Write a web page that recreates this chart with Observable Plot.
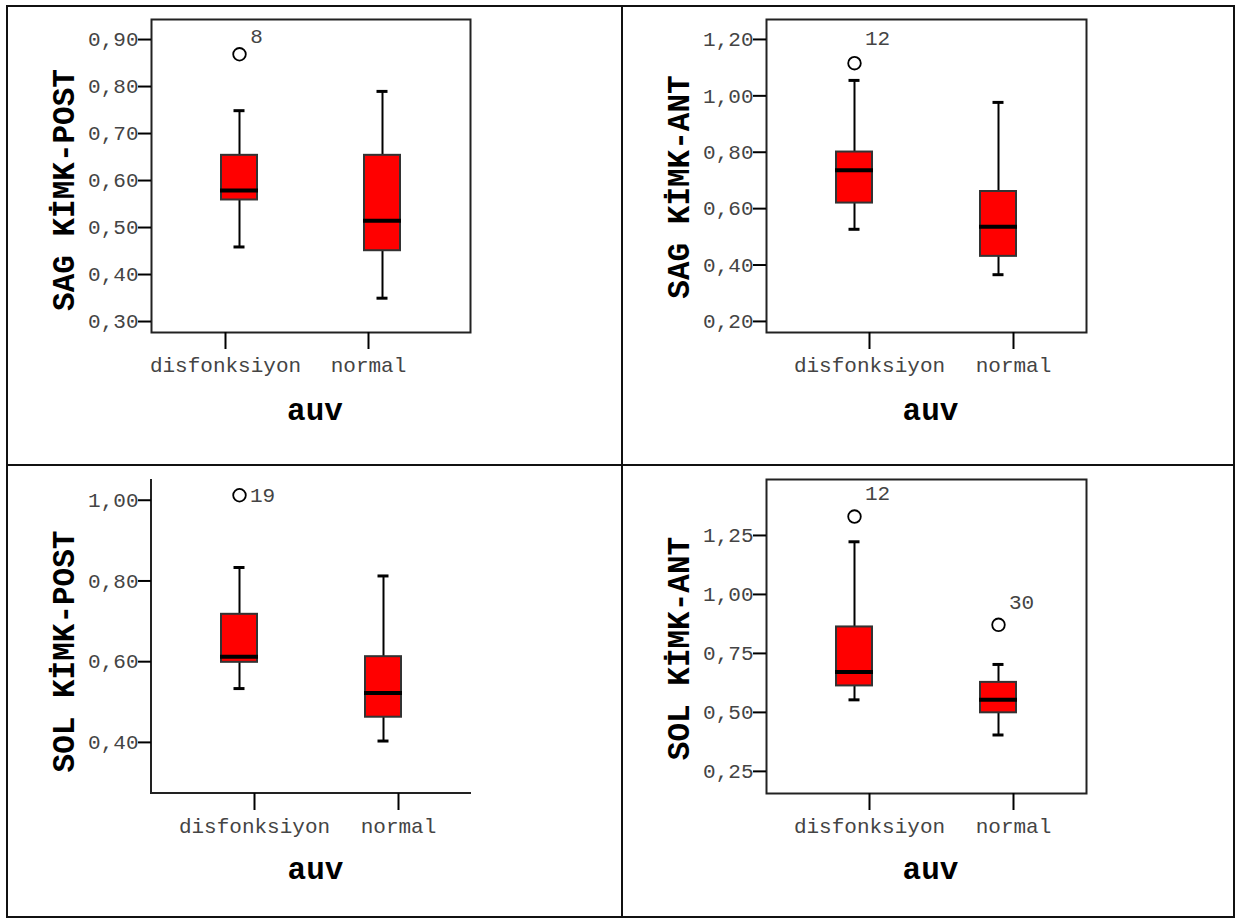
<!DOCTYPE html>
<html>
<head>
<meta charset="utf-8">
<script src="https://cdn.jsdelivr.net/npm/d3@7"></script>
<script src="https://cdn.jsdelivr.net/npm/@observablehq/plot@0.6"></script>
<style>
  html, body { margin: 0; padding: 0; background: #fff; }
  #page { position: relative; width: 1237px; height: 920px; background: #fff; overflow: hidden; }
  .panel { position: absolute; }
  .rule { position: absolute; background: #111; }
</style>
</head>
<body>
<div id="page"></div>
<script>
// ---------- data ----------
const groups = ["disfonksiyon", "normal"];
const xTitle = "auv";

// Panel 1: SAG KİMK-POST
const p1Title = "SAG KİMK-POST";
const p1Min = [0.448, 0.339];
const p1Q1 = [0.548, 0.440];
const p1Median = [0.568, 0.504];
const p1Q3 = [0.643, 0.643];
const p1Max = [0.738, 0.779];
const p1OutGroup = ["disfonksiyon"];
const p1OutValue = [0.858];
const p1OutId = ["8"];
const p1Ticks = [0.3, 0.4, 0.5, 0.6, 0.7, 0.8, 0.9];
const p1Domain = [0.266, 0.932];

// Panel 2: SAG KİMK-ANT
const p2Title = "SAG KİMK-ANT";
const p2Min = [0.509, 0.348];
const p2Q1 = [0.602, 0.413];
const p2Median = [0.718, 0.518];
const p2Q3 = [0.783, 0.643];
const p2Max = [1.037, 0.959];
const p2OutGroup = ["disfonksiyon"];
const p2OutValue = [1.098];
const p2OutId = ["12"];
const p2Ticks = [0.2, 0.4, 0.6, 0.8, 1.0, 1.2];
const p2Domain = [0.143, 1.253];

// Panel 3: SOL KİMK-POST
const p3Title = "SOL KİMK-POST";
const p3Min = [0.521, 0.391];
const p3Q1 = [0.586, 0.450];
const p3Median = [0.600, 0.510];
const p3Q3 = [0.705, 0.600];
const p3Max = [0.821, 0.800];
const p3OutGroup = ["disfonksiyon"];
const p3OutValue = [1.0];
const p3OutId = ["19"];
const p3Ticks = [0.4, 0.6, 0.8, 1.0];
const p3Domain = [0.261, 1.039];

// Panel 4: SOL KİMK-ANT
const p4Title = "SOL KİMK-ANT";
const p4Min = [0.532, 0.383];
const p4Q1 = [0.591, 0.477];
const p4Median = [0.650, 0.532];
const p4Q3 = [0.841, 0.606];
const p4Max = [1.202, 0.682];
const p4OutGroup = ["disfonksiyon", "normal"];
const p4OutValue = [1.309, 0.850];
const p4OutId = ["12", "30"];
const p4Ticks = [0.25, 0.5, 0.75, 1.0, 1.25];
const p4Domain = [0.135, 1.466];

// ---------- drawing ----------
const FONT = "'Liberation Mono', 'DejaVu Sans Mono', monospace";
const fmt = d => d3.format(".2f")(d).replace(".", ",");

function leftBottomLines(...args) {
  const dm = args.find(a => a && typeof a === "object" && "marginLeft" in a && "width" in a);
  const x0 = dm.marginLeft, x1 = dm.width - dm.marginRight;
  const y0 = dm.marginTop, y1 = dm.height - dm.marginBottom;
  const g = d3.create("svg:g");
  g.append("path")
    .attr("d", `M${x0},${y0}V${y1}H${x1}`)
    .attr("fill", "none").attr("stroke", "#222").attr("stroke-width", 2);
  return g.node();
}

function panel(cfg) {
  const rows = groups.map((g, i) => ({
    group: g, min: cfg.min[i], q1: cfg.q1[i], median: cfg.median[i], q3: cfg.q3[i], max: cfg.max[i]
  }));
  const outliers = cfg.outGroup.map((g, i) => ({group: g, value: cfg.outValue[i], id: cfg.outId[i]}));
  return Plot.plot({
    width: cfg.width, height: cfg.height,
    marginLeft: cfg.mL, marginRight: cfg.mR, marginTop: cfg.mT, marginBottom: cfg.mB,
    style: {fontFamily: FONT, background: "transparent", overflow: "visible"},
    x: {type: "band", domain: groups, paddingInner: 0.75, paddingOuter: 0.486},
    y: {domain: cfg.domain},
    marks: [
      cfg.fullFrame ? Plot.frame({stroke: "#222", strokeWidth: 2}) : leftBottomLines,
      Plot.ruleX(rows, {x: "group", y1: "min", y2: "max", stroke: "#000", strokeWidth: 2}),
      Plot.tickY(rows, {x: "group", y: "min", insetLeft: 12.5, insetRight: 12.5, stroke: "#000", strokeWidth: 3}),
      Plot.tickY(rows, {x: "group", y: "max", insetLeft: 12.5, insetRight: 12.5, stroke: "#000", strokeWidth: 3}),
      Plot.barY(rows, {x: "group", y1: "q1", y2: "q3", fill: "#ff0000", stroke: "#333", strokeWidth: 2}),
      Plot.tickY(rows, {x: "group", y: "median", insetLeft: -1, insetRight: -1, stroke: "#000", strokeWidth: 4}),
      Plot.dot(outliers, {x: "group", y: "value", r: 6.3, stroke: "#000", strokeWidth: 1.8, fill: "none"}),
      Plot.text(outliers, {x: "group", y: "value", text: "id", dx: cfg.idDx, dy: cfg.idDy, fontSize: 21, fill: "#444"}),
      Plot.axisY(cfg.ticks, {tickSize: 13, tickPadding: 0, tickFormat: fmt, fontSize: 21, fill: "#444",
        stroke: "#000", strokeWidth: 2, dy: 5, label: null}),
      Plot.axisX({tickSize: 17, tickPadding: 8, fontSize: 21, fill: "#444", stroke: "#000", strokeWidth: 2,
        dx: cfg.catDx, label: null}),
      Plot.text([xTitle], {frameAnchor: "bottom", textAnchor: "middle", lineAnchor: "bottom", dy: cfg.xTitleDy, dx: 4,
        fontSize: 31, fontWeight: "bold", fill: "#000"}),
      Plot.text([cfg.title], {frameAnchor: "left", textAnchor: "middle", lineAnchor: "middle", rotate: -90,
        dx: -87, dy: cfg.yTitleDy, fontSize: 31, fontWeight: "bold", fill: "#000"})
    ]
  });
}

const page = document.getElementById("page");
function place(node, left, top) {
  const wrap = document.createElement("div");
  wrap.className = "panel";
  wrap.style.left = left + "px";
  wrap.style.top = top + "px";
  wrap.appendChild(node);
  page.appendChild(wrap);
}

place(panel({title: p1Title, min: p1Min, q1: p1Q1, median: p1Median, q3: p1Q3, max: p1Max,
  outGroup: p1OutGroup, outValue: p1OutValue, outId: p1OutId, ticks: p1Ticks, domain: p1Domain,
  width: 613, height: 457, mL: 143, mR: 151, mT: 12, mB: 132, fullFrame: true,
  idDx: 17, idDy: -18, catDx: -14, xTitleDy: 87, yTitleDy: 14}), 8, 7);

place(panel({title: p2Title, min: p2Min, q1: p2Q1, median: p2Median, q3: p2Q3, max: p2Max,
  outGroup: p2OutGroup, outValue: p2OutValue, outId: p2OutId, ticks: p2Ticks, domain: p2Domain,
  width: 610, height: 457, mL: 143, mR: 147, mT: 12, mB: 132, fullFrame: true,
  idDx: 23, idDy: -25, catDx: 15, xTitleDy: 87, yTitleDy: 11}), 623, 7);

place(panel({title: p3Title, min: p3Min, q1: p3Q1, median: p3Median, q3: p3Q3, max: p3Max,
  outGroup: p3OutGroup, outValue: p3OutValue, outId: p3OutId, ticks: p3Ticks, domain: p3Domain,
  width: 613, height: 450, mL: 143, mR: 150, mT: 13, mB: 123, fullFrame: false,
  idDx: 23, idDy: 0, catDx: 15, xTitleDy: 85, yTitleDy: 15}), 8, 466);

place(panel({title: p4Title, min: p4Min, q1: p4Q1, median: p4Median, q3: p4Q3, max: p4Max,
  outGroup: p4OutGroup, outValue: p4OutValue, outId: p4OutId, ticks: p4Ticks, domain: p4Domain,
  width: 610, height: 450, mL: 143, mR: 147, mT: 13, mB: 123, fullFrame: true,
  idDx: 23, idDy: -23, catDx: 15, xTitleDy: 85, yTitleDy: 12}), 623, 466);

// table grid lines
function rule(left, top, w, h) {
  const d = document.createElement("div");
  d.className = "rule";
  Object.assign(d.style, {left: left + "px", top: top + "px", width: w + "px", height: h + "px"});
  page.appendChild(d);
}
rule(6, 5, 1229, 2);     // top
rule(6, 916, 1229, 2);   // bottom
rule(6, 5, 2, 913);      // left
rule(1233, 5, 2, 913);   // right
rule(621, 5, 2, 913);    // middle vertical
rule(6, 464, 1229, 2);   // middle horizontal
</script>
</body>
</html>
